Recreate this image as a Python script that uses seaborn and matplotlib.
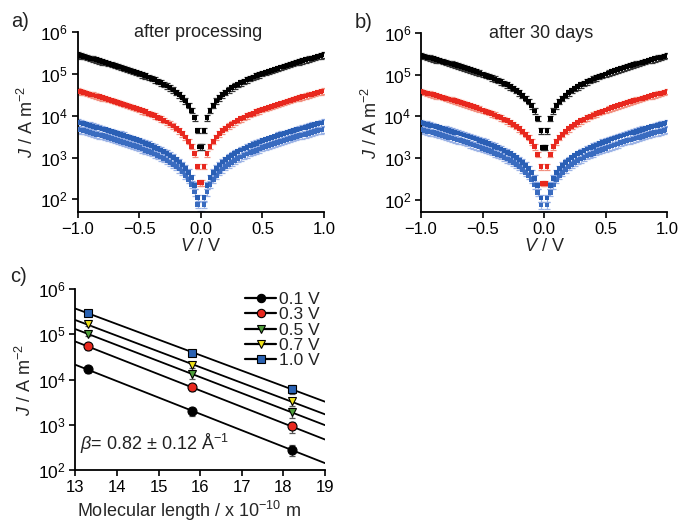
import numpy as np
import pandas as pd
import matplotlib
matplotlib.use("Agg")
import matplotlib.pyplot as plt
import seaborn as sns
from matplotlib.ticker import FixedLocator, NullLocator, LogFormatterSciNotation

# ---------------- data ----------------
# |V| grid of the J-V sweeps (both bias polarities measured on the same grid)
bias_abs = [0.01] + [round(0.025 * k, 3) for k in range(1, 41)]

# current density |J| (A m^-2) at each |V| in bias_abs
J_black = [1.8e3, 4.5e3, 9.0e3, 1.35e4, 1.81e4, 2.27e4, 2.74e4, 3.21e4, 3.69e4, 4.17e4,
           4.67e4, 5.18e4, 5.69e4, 6.22e4, 6.76e4, 7.32e4, 7.89e4, 8.48e4, 9.08e4, 9.71e4,
           1.035e5, 1.10e5, 1.17e5, 1.24e5, 1.31e5, 1.39e5, 1.47e5, 1.55e5, 1.63e5, 1.72e5,
           1.81e5, 1.90e5, 1.99e5, 2.09e5, 2.19e5, 2.30e5, 2.41e5, 2.52e5, 2.64e5, 2.76e5, 2.88e5]
J_red = [250, 620, 1.23e3, 1.86e3, 2.48e3, 3.11e3, 3.75e3, 4.40e3, 5.05e3, 5.72e3,
         6.40e3, 7.10e3, 7.80e3, 8.52e3, 9.26e3, 1.003e4, 1.081e4, 1.162e4, 1.244e4, 1.330e4,
         1.418e4, 1.507e4, 1.603e4, 1.699e4, 1.795e4, 1.904e4, 2.014e4, 2.123e4, 2.233e4, 2.356e4,
         2.479e4, 2.603e4, 2.726e4, 2.863e4, 3.000e4, 3.151e4, 3.301e4, 3.452e4, 3.616e4, 3.781e4, 3.945e4]
J_blue_hi = [44, 110, 220, 330, 442, 554, 667, 783, 899, 1018,
             1139, 1262, 1388, 1517, 1649, 1785, 1925, 2068, 2215, 2368,
             2524, 2683, 2853, 3024, 3195, 3390, 3585, 3780, 3976, 4195,
             4415, 4634, 4854, 5098, 5341, 5610, 5878, 6146, 6439, 6732, 7024]
J_blue_lo = [30, 75, 150, 226, 302, 378, 456, 535, 614, 696,
             778, 863, 948, 1037, 1127, 1220, 1315, 1413, 1513, 1618,
             1725, 1835, 1950, 2067, 2183, 2317, 2450, 2583, 2717, 2867,
             3017, 3167, 3317, 3483, 3650, 3833, 4017, 4200, 4400, 4600, 4800]
# relative spread of each sweep
rel_err = {"black": 0.15, "red": 0.15, "blue_hi": 0.18, "blue_lo": 0.18}

# panel c: J at fixed bias vs molecular length
mol_length = [13.3, 15.8, 18.2]
bias_labels = ["0.1 V", "0.3 V", "0.5 V", "0.7 V", "1.0 V"]
J_len = {
    "0.1 V": [1.67e4, 2.0e3, 2.8e2],
    "0.3 V": [5.4e4, 6.7e3, 9.2e2],
    "0.5 V": [1.03e5, 1.3e4, 1.9e3],
    "0.7 V": [1.66e5, 2.1e4, 3.3e3],
    "1.0 V": [2.97e5, 3.9e4, 6.2e3],
}
J_len_err = {
    "0.1 V": [2.5e3, 4e2, 8e1],
    "0.3 V": [8e3, 1.2e3, 2.5e2],
    "0.5 V": [1.2e4, 2.5e3, 5e2],
    "0.7 V": [1.5e4, 3e3, 7e2],
    "1.0 V": [2.5e4, 5e3, 1.5e3],
}
beta_text = r"$\beta$= 0.82 ± 0.12 Å$^{-1}$"

# ---------------- style ----------------
sns.set_theme(style="ticks")
plt.rcParams.update({
    "font.family": ["Liberation Sans", "DejaVu Sans"],
    "mathtext.fontset": "custom",
    "mathtext.rm": "Liberation Sans",
    "mathtext.it": "Liberation Sans:italic",
    "mathtext.bf": "Liberation Sans:bold",
    "axes.edgecolor": "black",
    "axes.linewidth": 1.3,
    "xtick.color": "black",
    "ytick.color": "black",
    "xtick.major.width": 1.2,
    "ytick.major.width": 1.2,
    "xtick.major.size": 4,
    "ytick.major.size": 4,
    "xtick.labelsize": 12,
    "ytick.labelsize": 12.5,
    "text.color": "#222222",
})
FS = 13

sweep_styles = {
    "blue_lo": dict(color="#3a6cc0", ecolor="#9db4e6"),
    "blue_hi": dict(color="#2a5fb5", ecolor="#8aa6e0"),
    "red": dict(color="#e8281e", ecolor="#f29080"),
    "black": dict(color="#000000", ecolor="#333333"),
}
sweeps = {"blue_lo": J_blue_lo, "blue_hi": J_blue_hi, "red": J_red, "black": J_black}

fig = plt.figure(figsize=(6.78, 5.24), dpi=100)
W, H = 678, 524


def add_axes(left, top, right, bottom):
    return fig.add_axes([left / W, 1 - bottom / H, (right - left) / W, (bottom - top) / H])


def log_axis(ax, lo_exp, hi_exp):
    ax.set_yscale("log")
    ax.yaxis.set_major_locator(FixedLocator([10.0 ** k for k in range(lo_exp, hi_exp + 1)]))
    ax.yaxis.set_major_formatter(LogFormatterSciNotation())
    ax.yaxis.set_minor_locator(NullLocator())
    sns.despine(ax=ax)
    ax.tick_params(axis="both", direction="out", pad=3)


def jv_panel(ax, title, tag):
    v_abs = np.array(bias_abs)
    V = np.concatenate([-v_abs[::-1], v_abs])
    rows = []
    for name, J in sweeps.items():
        J = np.array(J)
        Jf = np.concatenate([J[::-1], J])
        st = sweep_styles[name]
        ax.errorbar(V, Jf, yerr=Jf * rel_err[name], fmt="none", ecolor=st["ecolor"],
                    elinewidth=0.9, capsize=2.5, capthick=0.9, zorder=2)
        rows.append(pd.DataFrame({"V": V, "J": Jf, "sweep": name}))
    df = pd.concat(rows)
    sns.scatterplot(data=df, x="V", y="J", hue="sweep",
                    palette={k: v["color"] for k, v in sweep_styles.items()},
                    marker="s", s=12, linewidth=0, legend=False, ax=ax, zorder=3)
    log_axis(ax, 2, 6)
    ax.set_xlim(-1.0, 1.0)
    ax.set_ylim(50, 1e6)
    ax.xaxis.set_major_locator(FixedLocator([-1.0, -0.5, 0.0, 0.5, 1.0]))
    ax.set_xticklabels(["\u22121.0", "\u22120.5", "0.0", "0.5", "1.0"])
    ax.set_xlabel(r"$V$ / V", fontsize=FS, labelpad=1)
    ax.set_ylabel(r"$J$ / A m$^{-2}$", fontsize=FS, labelpad=2)
    ax.text(0.49, 1.0, title, transform=ax.transAxes, ha="center", va="center", fontsize=FS)
    ax.text(-0.27, 1.06, tag, transform=ax.transAxes, ha="left", va="center", fontsize=FS + 1.5)


ax_a = add_axes(77.7, 32.3, 324, 212)
jv_panel(ax_a, "after processing", "a)")
ax_b = add_axes(421, 33, 667, 212.3)
jv_panel(ax_b, "after 30 days", "b)")

# ---------------- panel c ----------------
ax_c = add_axes(75.3, 289, 325, 470)
len_styles = {
    "0.1 V": dict(marker="o", color="#000000", ms=6.5),
    "0.3 V": dict(marker="o", color="#e8281e", ms=6.5),
    "0.5 V": dict(marker="v", color="#4e9e3a", ms=6.0),
    "0.7 V": dict(marker="v", color="#f0e21a", ms=6.0),
    "1.0 V": dict(marker="s", color="#2a62b2", ms=6.0),
}
x_fit = np.array([13.0, 19.0])
handles = []
for lab in bias_labels:
    J = np.array(J_len[lab])
    st = len_styles[lab]
    slope, icpt = np.polyfit(mol_length, np.log10(J), 1)
    sns.lineplot(x=x_fit, y=10 ** (icpt + slope * x_fit), color="black", lw=1.3, ax=ax_c, zorder=2)
    ax_c.errorbar(mol_length, J, yerr=J_len_err[lab], fmt="none", ecolor="#555555",
                  elinewidth=0.9, capsize=2.5, capthick=0.9, zorder=3)
    ax_c.plot(mol_length, J, linestyle="none", marker=st["marker"], ms=st["ms"],
              mfc=st["color"], mec="black", mew=0.8, zorder=4)
    handles.append(plt.Line2D([], [], color="black", lw=1.6, marker=st["marker"], ms=st["ms"] - 0.5,
                              mfc=st["color"], mec="black", mew=0.8))
log_axis(ax_c, 2, 6)
ax_c.set_xlim(13, 19)
ax_c.set_ylim(100, 1e6)
ax_c.xaxis.set_major_locator(FixedLocator(list(range(13, 20))))
ax_c.set_ylabel(r"$J$ / A m$^{-2}$", fontsize=FS, labelpad=2)
ax_c.set_xlabel("Molecular length / x 10$^{\u221210}$ m", fontsize=FS)
ax_c.xaxis.set_label_coords(0.457, -0.16)
ax_c.text(13.12, 380, beta_text, fontsize=FS, ha="left", va="center")
ax_c.legend(handles, bias_labels, loc="upper right", bbox_to_anchor=(1.02, 1.04), frameon=False,
            fontsize=12.5, handlelength=1.8, handletextpad=0.15, labelspacing=0.0, borderaxespad=0.2)
ax_c.text(-0.26, 1.07, "c)", transform=ax_c.transAxes, ha="left", va="center", fontsize=FS + 1.5)

fig.savefig("out.png", dpi=100)
